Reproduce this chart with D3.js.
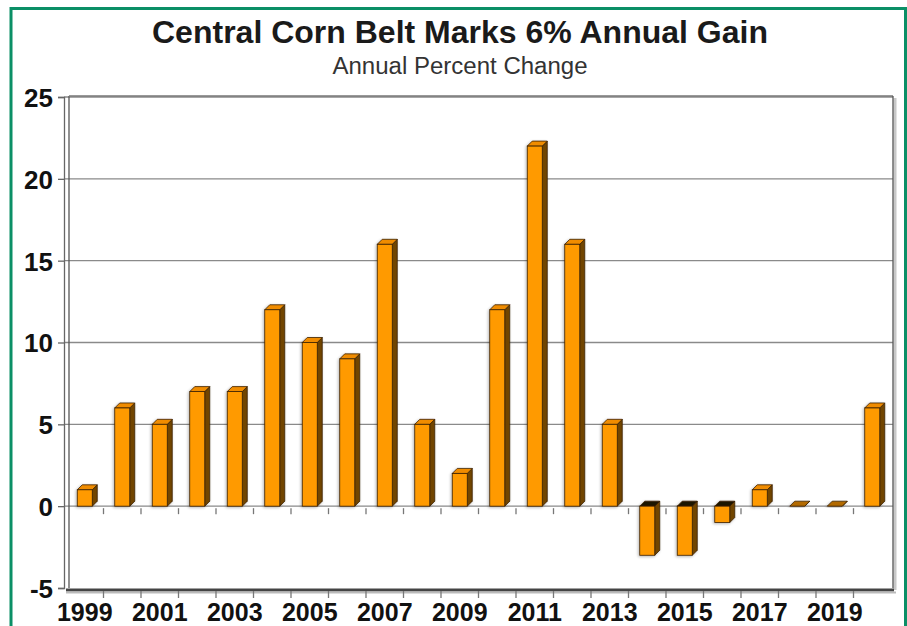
<!DOCTYPE html>
<html>
<head>
<meta charset="utf-8">
<script src="https://cdn.jsdelivr.net/npm/d3@7"></script>
<style>
  html, body { margin: 0; padding: 0; background: #fff; }
  svg { display: block; }
</style>
</head>
<body>
<script>
// Annual percent change, Central Corn Belt
const years = [1999, 2000, 2001, 2002, 2003, 2004, 2005, 2006, 2007, 2008, 2009,
               2010, 2011, 2012, 2013, 2014, 2015, 2016, 2017, 2018, 2019, 2020];
const changes = [1, 6, 5, 7, 7, 12, 10, 9, 16, 5, 2,
                 12, 22, 16, 5, -3, -3, -1, 1, 0, 0, 6];
const yTicks = [-5, 0, 5, 10, 15, 20, 25];
const xLabels = [1999, 2001, 2003, 2005, 2007, 2009, 2011, 2013, 2015, 2017, 2019];

const W = 907, H = 626;
const svg = d3.select("body").append("svg").attr("width", W).attr("height", H);

// green outer frame
svg.append("rect")
  .attr("x", 11).attr("y", 8.5).attr("width", 894.5).attr("height", 640)
  .attr("fill", "none").attr("stroke", "#0b8f66").attr("stroke-width", 3);

const x = d3.scaleBand().domain(years).range([66, 891]).padding(0);
const y = d3.scaleLinear().domain([-5, 25]).range([588, 97]);

const depthX = 5, depthY = -5;
const frontW = x.bandwidth() * 0.4;

// titles
svg.append("text").attr("x", 460).attr("y", 43).attr("text-anchor", "middle")
  .attr("font-family", "Liberation Sans, Arial, sans-serif").attr("font-weight", "bold")
  .attr("font-size", 32).attr("fill", "#1a1a1a")
  .attr("textLength", 616).attr("lengthAdjust", "spacingAndGlyphs")
  .text("Central Corn Belt Marks 6% Annual Gain");
svg.append("text").attr("x", 460).attr("y", 74).attr("text-anchor", "middle")
  .attr("font-family", "Liberation Sans, Arial, sans-serif")
  .attr("font-size", 23).attr("fill", "#333")
  .attr("textLength", 255).attr("lengthAdjust", "spacingAndGlyphs")
  .text("Annual Percent Change");

const wallLeft = 69, wallRight = 893, wallTop = 96;

// gridlines on the back wall
svg.append("g").selectAll("line").data(yTicks.filter(d => d !== -5)).join("line")
  .attr("x1", 64).attr("x2", wallRight)
  .attr("y1", d => y(d)).attr("y2", d => y(d))
  .attr("stroke", "#8a8a8a").attr("stroke-width", 1.3);

// wall edges
svg.append("line").attr("x1", wallLeft).attr("x2", wallLeft).attr("y1", wallTop).attr("y2", y(-5))
  .attr("stroke", "#555").attr("stroke-width", 1.3);
svg.append("line").attr("x1", wallLeft).attr("x2", wallRight).attr("y1", wallTop).attr("y2", wallTop)
  .attr("stroke", "#777").attr("stroke-width", 1.5);
// right wall edge with shadow
svg.append("line").attr("x1", wallRight + 2).attr("x2", wallRight + 2).attr("y1", wallTop + 2).attr("y2", y(-5) + 2)
  .attr("stroke", "#c8c8c8").attr("stroke-width", 3);
svg.append("line").attr("x1", wallRight).attr("x2", wallRight).attr("y1", wallTop).attr("y2", y(-5))
  .attr("stroke", "#555").attr("stroke-width", 1.3);
// floor edge with shadow
svg.append("line").attr("x1", 66).attr("x2", wallRight + 1).attr("y1", y(-5) + 2).attr("y2", y(-5) + 2)
  .attr("stroke", "#444").attr("stroke-width", 3);
svg.append("line").attr("x1", 66).attr("x2", wallRight + 3).attr("y1", y(-5) + 4.5).attr("y2", y(-5) + 4.5)
  .attr("stroke", "#bbb").attr("stroke-width", 2);

// y axis (plain hyphen for negatives)
const yAxis = d3.axisLeft(y).tickValues(yTicks).tickSize(6).tickPadding(5)
  .tickFormat(d => String(d));
const gy = svg.append("g").attr("transform", "translate(64,0)").call(yAxis);
gy.select(".domain").attr("stroke", "#666").attr("stroke-width", 1.3);
gy.selectAll(".tick line").attr("stroke", "#666").attr("stroke-width", 1.3);
gy.selectAll(".tick text")
  .attr("font-family", "Liberation Sans, Arial, sans-serif").attr("font-weight", "bold")
  .attr("font-size", 26).attr("fill", "#111").attr("dy", "0.36em");

// x category ticks along the zero line and along the bottom
const boundaries = years.slice(1).map(d => x(d));
svg.append("g").selectAll("line").data(boundaries).join("line")
  .attr("x1", d => d).attr("x2", d => d)
  .attr("y1", y(0) + 2).attr("y2", y(0) + 8)
  .attr("stroke", "#777").attr("stroke-width", 1.3);
svg.append("g").selectAll("line").data(boundaries).join("line")
  .attr("x1", d => d).attr("x2", d => d)
  .attr("y1", y(-5) + 3).attr("y2", y(-5) + 10)
  .attr("stroke", "#777").attr("stroke-width", 1.3);

svg.append("g").selectAll("text").data(xLabels).join("text")
  .attr("x", d => x(d) + x.bandwidth() / 2).attr("y", 621)
  .attr("text-anchor", "middle")
  .attr("font-family", "Liberation Sans, Arial, sans-serif").attr("font-weight", "bold")
  .attr("font-size", 25).attr("fill", "#111")
  .text(d => d);

// soft shadow for the bars
const defs = svg.append("defs");
const f = defs.append("filter").attr("id", "barShadow").attr("x", "-50%").attr("y", "-20%")
  .attr("width", "200%").attr("height", "140%");
f.append("feGaussianBlur").attr("in", "SourceAlpha").attr("stdDeviation", 1.6).attr("result", "b");
f.append("feOffset").attr("in", "b").attr("dx", -1).attr("dy", 1).attr("result", "o");
f.append("feComponentTransfer").attr("in", "o").attr("result", "s")
  .append("feFuncA").attr("type", "linear").attr("slope", 0.3);
const fm = f.append("feMerge");
fm.append("feMergeNode").attr("in", "s");
fm.append("feMergeNode").attr("in", "SourceGraphic");

// 3D bars
const data = years.map((yr, i) => ({ yr, v: changes[i] }));
const bars = svg.append("g").selectAll("g").data(data).join("g").attr("filter", "url(#barShadow)");

const stroke = "#3b2100";
bars.each(function (d) {
  const g = d3.select(this);
  const x0 = x(d.yr) + (x.bandwidth() - frontW) / 2;
  const x1 = x0 + frontW;
  const yTop = y(Math.max(d.v, 0));
  const yBot = y(Math.min(d.v, 0));
  // side face
  g.append("path")
    .attr("d", `M${x1},${yTop} L${x1 + depthX},${yTop + depthY} L${x1 + depthX},${yBot + depthY} L${x1},${yBot} Z`)
    .attr("fill", "#714400").attr("stroke", stroke).attr("stroke-width", 0.8);
  // top face
  g.append("path")
    .attr("d", `M${x0},${yTop} L${x0 + depthX},${yTop + depthY} L${x1 + depthX},${yTop + depthY} L${x1},${yTop} Z`)
    .attr("fill", d.v < 0 ? "#1f1300" : (d.v === 0 ? "#b36b00" : "#f08c00"))
    .attr("stroke", stroke).attr("stroke-width", 0.8);
  // front face
  if (d.v !== 0) {
    g.append("rect")
      .attr("x", x0).attr("y", yTop).attr("width", frontW).attr("height", yBot - yTop)
      .attr("fill", "#ff9a00").attr("stroke", stroke).attr("stroke-width", 0.8);
  }
});
</script>
</body>
</html>
